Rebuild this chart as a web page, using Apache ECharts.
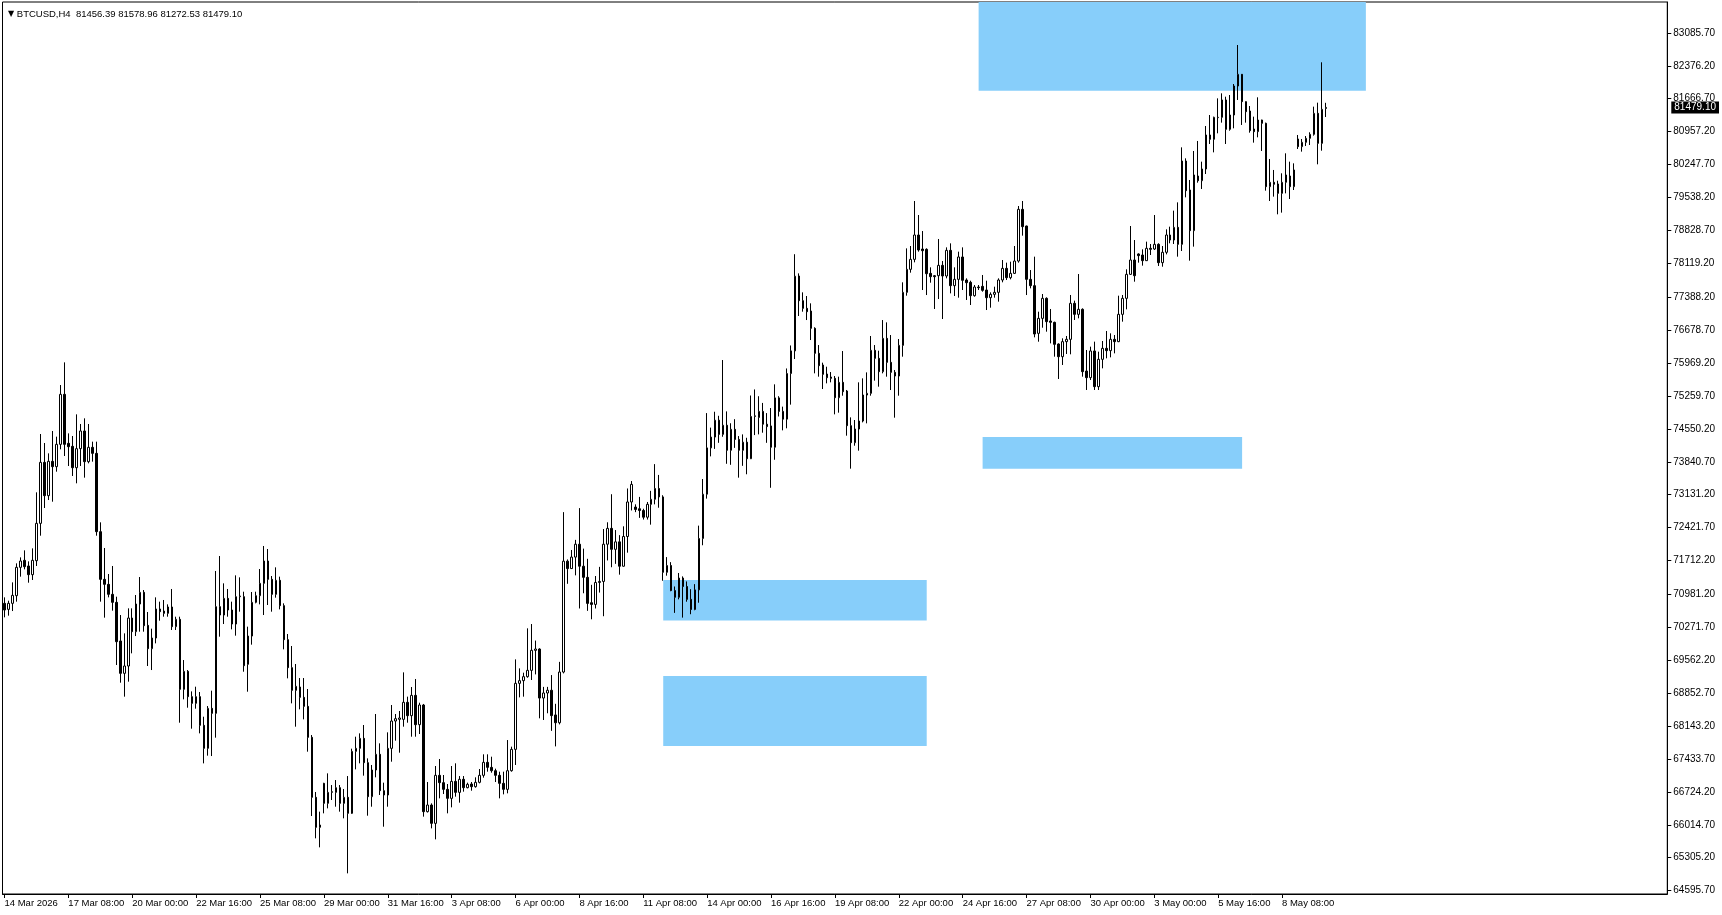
<!DOCTYPE html>
<html><head><meta charset="utf-8">
<script src="https://cdn.jsdelivr.net/npm/echarts@6/dist/echarts.min.js"></script>
<style>html,body{margin:0;padding:0;background:#fff;}#c{width:1722px;height:915px;}</style>
</head><body><div id="c"></div><script>
const symbolName = 'BTCUSD,H4';
const tickLabels = ['14 Mar 2026','17 Mar 08:00','20 Mar 00:00','22 Mar 16:00','25 Mar 08:00','29 Mar 00:00','31 Mar 16:00','3 Apr 08:00','6 Apr 00:00','8 Apr 16:00','11 Apr 08:00','14 Apr 00:00','16 Apr 16:00','19 Apr 08:00','22 Apr 00:00','24 Apr 16:00','27 Apr 08:00','30 Apr 00:00','3 May 00:00','5 May 16:00','8 May 08:00'];
const barsPerLabel = 16;
const futureBars = 85;
const priceTicks = [83085.70,82376.20,81666.70,80957.20,80247.70,79538.20,78828.70,78119.20,77388.20,76678.70,75969.20,75259.70,74550.20,73840.70,73131.20,72421.70,71712.20,70981.20,70271.70,69562.20,68852.70,68143.20,67433.70,66724.20,66014.70,65305.20,64595.70];
const priceMin = 64523;
const priceMax = 83752;

const openP = [70789,70659,70789,70954,71565,71716,71594,71407,71708,72513,73828,73110,73850,73735,74216,75294,74238,74173,73713,74123,74504,73843,74152,74022,72334,71306,71198,70983,70810,69977,69280,69438,70472,70178,70774,71026,70314,69811,70041,70667,70623,70573,70710,70286,70444,68935,69323,68777,68633,68777,68159,67663,68525,68417,70717,70537,70896,70645,70343,70932,70932,69474,70084,70810,70954,71220,71701,71306,70983,71285,70739,70006,69402,68913,68985,68762,68568,67900,66607,65960,66908,66477,66714,66714,66815,66477,66607,66262,67598,67663,67878,67354,66621,67196,67534,66750,66657,67663,68252,68288,68288,68655,68367,68805,68173,68597,66298,66441,66046,67081,66923,66779,66585,66951,66714,66995,66815,66894,66837,66930,67081,67361,67253,67181,67081,66908,66779,67181,67641,69064,69122,69208,69344,69775,69804,68747,68856,68915,68383,68215,69308,71698,71538,71786,72063,71589,71349,70802,70766,71239,71261,72063,72405,71953,72114,71589,72230,72974,72864,72828,72791,72646,72923,73032,73265,73083,71458,71604,71064,70919,71334,71152,70875,70656,71079,72187,73141,74140,74373,74737,74431,74628,74088,74540,74322,74088,74263,73906,74817,74795,74927,74650,74613,74154,75218,74927,74759,75743,76231,77845,77313,77148,77090,76717,76178,75926,75732,75667,75639,75222,75553,75366,74619,74252,74547,74719,75280,75316,76243,76070,75783,76501,75984,75768,75689,76350,77493,77989,78204,78729,78427,78420,77902,77852,77852,78075,77845,78398,77637,77773,78255,77759,77709,77421,77608,77622,77543,77378,77450,77493,77759,78010,77809,77902,78168,79282,78923,77773,77637,76609,76932,77364,76875,76846,76379,76106,76430,76480,77256,77019,77127,75797,75654,76229,75460,76049,76286,76236,76480,76430,77019,77364,77881,78190,78320,78298,78176,78442,78427,78528,78133,78356,78729,78621,78894,78528,80324,79699,78823,80001,79900,80152,80885,80792,81259,81266,81640,81007,81316,81941,82193,81604,81402,81014,80957,81208,81137,79771,79865,79829,79627,79865,80001,79771,80799,80634,80727,80813,80899,81352,80705,81456.39];
const highP = [70918,70846,71241,71651,71780,71931,71694,71974,73182,74439,74245,74022,74504,74382,75495,75984,74453,74396,74863,74655,74777,74655,74274,74274,72535,71982,71421,71594,70932,70537,70142,70681,70681,70968,71356,71076,70602,70243,70918,70825,70861,70767,71098,70501,70501,69567,69351,68891,68992,68877,68345,68575,68906,71486,71809,71220,71098,70825,71392,71349,71040,70286,71033,71040,71529,72025,71960,71378,71565,71364,70789,70128,69869,69481,69179,69179,68942,67950,66722,66298,66920,67124,66872,66980,66872,66786,67066,67656,67914,67986,68166,67447,67304,68403,67771,66923,68008,68597,68403,68468,69301,68777,68985,69158,68647,68620,66937,66477,67282,67433,67088,66894,67282,67340,67066,67066,66923,66937,67038,67217,67534,67534,67483,67225,67160,67160,67842,67699,69581,69387,69294,70250,70343,69986,69820,68988,68988,69243,68623,69527,72755,71735,71939,72157,72842,71968,71749,71188,71378,71575,72391,72536,73141,72369,72259,72449,73265,73425,72923,73083,72828,72974,73214,73790,73557,73119,71786,71677,71152,71443,71370,71261,71094,71203,72464,73469,74890,74577,74919,74832,76034,74927,74671,74759,74395,74431,74358,75269,75400,75254,75109,74890,74999,75510,75254,75029,75852,76348,78315,77902,77493,77414,77256,76740,76357,75977,75890,75775,75689,75675,76228,75388,74798,74741,75553,75639,75768,76552,76357,76235,76896,76846,76573,75819,76487,77709,78441,78492,79462,79160,78815,78442,78032,77866,78643,78168,78463,78549,78032,78370,78463,77795,77744,77651,77651,77867,77744,77493,77615,77795,78190,78133,78154,78492,79354,79462,78930,77974,78262,77076,77457,77385,77134,76861,76393,76502,76552,77436,77314,77888,77148,76250,76322,76430,76214,76444,76660,76609,76573,77421,77436,77989,78923,78621,78334,78420,78586,78535,79160,78550,78492,78851,78909,79254,79433,80619,80382,79915,80540,80756,80310,81079,81316,81280,81675,81783,81711,81747,81984,82825,82200,81610,81510,81280,81697,81215,81151,80368,80131,79900,80059,80490,80310,80274,80885,80799,80863,80943,81496,81582,82452,81578.96];
const lowP = [70487,70523,70623,70825,71364,71522,71234,71292,71594,72247,72844,73016,72980,73627,74109,73965,73749,73534,73376,73749,73498,73807,73843,72247,70825,70480,70918,70631,69459,69078,68777,69100,69711,70084,70178,70178,69438,69351,69926,70415,70501,70501,70214,70214,68216,68719,68539,68087,68518,67986,67339,67505,67497,67893,70070,70343,70501,70228,70092,70609,69315,68884,69898,70789,70767,70537,70753,70609,70911,70659,69797,69172,68633,68130,68504,68288,67591,66204,65723,65529,66262,66369,66549,66405,66298,66154,64968,66250,67210,67340,67074,66211,66405,67038,66657,65974,66405,67375,67828,67569,68130,68216,67914,67914,67972,66190,66280,65938,65701,66585,66678,66262,66391,66621,66492,66729,66801,66750,66815,66908,67031,67160,67138,66937,66585,66671,66693,67160,67304,68762,68777,69186,69136,69257,68310,68274,68419,68040,67705,68179,69279,71210,71530,71392,70678,71006,70627,70445,70678,71021,70511,71713,71567,71640,71407,71580,71881,72791,72755,72631,72595,72595,72485,72923,72850,71276,71385,71050,70583,70875,70481,70824,70554,70640,70802,72041,73046,73957,74118,74249,74380,73797,73775,74140,73498,73753,73571,73899,74416,74431,74467,74249,73280,73884,74817,74518,74562,75072,76056,76983,77076,76896,76465,75747,75675,75409,75531,75553,74863,74899,75265,74403,73692,74187,74080,74690,74669,75265,75589,75459,75747,75675,75387,74791,75265,76106,77421,77917,78140,78370,77543,77435,77701,77134,77349,76918,77795,77471,77414,77378,77543,77328,77220,77400,77543,77507,77112,77162,77378,77292,77709,77759,77773,77888,78133,78715,77435,77579,76523,76429,76731,76645,76393,76106,75625,75927,76164,76157,76897,76933,75675,75388,75603,75388,75388,75855,76070,76092,76178,76420,76861,77127,77870,77723,78133,78068,78170,78298,78406,78061,78046,78312,78550,78535,78262,78384,79541,78176,78478,79857,79721,80044,80691,80511,80921,81151,80691,80978,81029,81640,81101,81151,80935,80720,80835,80540,79685,79462,79556,79175,79211,79627,79505,79699,80583,80526,80648,80669,80871,80253,80547,81272.53];
const closeP = [70645,70789,70961,71565,71701,71579,71407,71716,72513,73828,73110,73850,73735,74216,75294,74216,74166,73713,74123,74504,73843,74152,74022,72334,71306,71198,70983,70810,69962,69280,69438,70472,70178,70774,71026,70307,69811,70041,70667,70609,70573,70710,70286,70444,68935,69323,68777,68633,68777,68159,67663,68525,68417,70717,70537,70896,70645,70343,70932,70947,69445,70084,70810,70954,71220,71701,71306,70983,71285,70739,70006,69402,68913,69000,68762,68568,67900,66607,65960,66010,66477,66714,66729,66815,66477,66607,66262,67598,67663,67878,67354,66621,67196,67534,66750,66657,67663,68252,68302,68317,68655,68367,68805,68173,68597,66298,66441,66046,67081,66923,66779,66585,66951,66714,66995,66815,66887,66837,66930,67081,67361,67253,67181,67081,66908,66779,67181,67641,69064,69122,69208,69344,69776,69804,68747,68856,68915,68368,68215,69308,71698,71538,71786,72063,71589,71349,70788,70766,71239,71261,72063,72405,71953,72114,71589,72230,72974,73353,72813,72791,72646,72923,73032,73265,73083,71458,71604,71064,70919,71334,71152,70875,70656,71079,72187,73141,74140,74373,74737,74431,74628,74088,74540,74322,74088,74263,73906,74817,74832,74927,74650,74599,74154,75218,74927,74759,75743,76231,77841,77313,77148,77076,76717,76178,75912,75725,75653,75639,75222,75553,75352,74619,74252,74547,74719,75280,75316,76243,76070,75783,76501,75984,75768,75689,76350,77493,77989,78204,78729,78406,78391,77895,77831,77831,78075,77845,78398,77637,77773,78255,77752,77701,77421,77608,77594,77536,77378,77450,77493,77759,78010,77809,77902,78168,79282,78909,77773,77637,76595,76932,77364,76861,76846,76372,76106,76430,76480,77256,77019,77127,75783,75654,76229,75460,76049,76286,76236,76480,76430,77019,77364,77881,78190,77852,78284,78176,78442,78420,78528,78133,78356,78729,78621,78894,78528,80324,79685,78823,80023,79900,80152,80885,80792,81266,81266,81640,81007,81316,81941,82193,81604,81388,80978,80957,81208,81137,79771,79865,79822,79627,79865,80023,79771,80131,80634,80727,80813,80899,81352,80705,81438,81479.10];

// rectangle objects: bar index range and price range
const zoneStart = [244, 245, 165, 165];
const zoneEnd   = [341, 310, 231, 231];
const zoneHigh  = [priceMax, 74375, 71292, 69222];
const zoneLow   = [81840, 73689, 70417, 67713];

const zoneColor = '#87CEFA';
const FONT = '"Liberation Sans", Arial, sans-serif';

const totalSlots = openP.length + futureBars;
const categories = Array.from({length: totalSlots}, (_, i) => String(i));
const candleData = openP.map((o, i) => [o, closeP[i], lowP[i], highP[i]]);
const last = openP.length - 1;
const fmt = v => Number(v).toFixed(2);
const titleText = symbolName + '  ' + [openP[last], highP[last], lowP[last], closeP[last]].map(fmt).join(' ');
const isLabelSlot = idx => idx % barsPerLabel === 0 && (idx / barsPerLabel) < tickLabels.length;

const chart = echarts.init(document.getElementById('c'), null, {renderer: 'canvas'});
chart.setOption({
  animation: false,
  backgroundColor: '#fff',
  textStyle: {fontFamily: FONT},
  title: {
    left: 3, top: 4,
    text: '{t|▼} ' + titleText,
    textStyle: {
      fontFamily: FONT, fontSize: 9.5, fontWeight: 'normal', color: '#000',
      rich: {t: {fontSize: 8, color: '#000', fontFamily: 'DejaVu Sans'}}
    }
  },
  grid: {left: 2.5, top: 2, width: 1668, height: 892, show: true, borderColor: '#000', borderWidth: 1, backgroundColor: 'transparent'},
  xAxis: {
    type: 'category', data: categories, boundaryGap: true,
    axisLine: {show: true, lineStyle: {color: '#000', width: 1}},
    axisTick: {show: true, interval: (idx) => isLabelSlot(idx), alignWithLabel: true, length: 4, lineStyle: {color: '#000'}},
    axisLabel: {
      interval: (idx) => isLabelSlot(idx), align: 'left', margin: 4, padding: 0,
      color: '#000', fontSize: 9.5, fontFamily: FONT,
      formatter: (v, idx) => isLabelSlot(idx) ? tickLabels[idx / barsPerLabel] : ''
    },
    splitLine: {show: false}
  },
  yAxis: [
    {
      type: 'value', position: 'right', min: priceMin, max: priceMax,
      axisLine: {show: true, lineStyle: {color: '#000', width: 1}},
      axisTick: {show: true, length: 4, customValues: priceTicks, lineStyle: {color: '#000'}},
      axisLabel: {customValues: priceTicks, formatter: v => fmt(v), color: '#000', fontSize: 10, fontFamily: FONT, margin: 6},
      splitLine: {show: false}
    },
    {
      type: 'value', position: 'right', min: priceMin, max: priceMax, z: 10,
      axisLine: {show: false}, axisTick: {show: false}, splitLine: {show: false},
      axisLabel: {
        customValues: [closeP[last]], formatter: v => fmt(v), color: '#fff', backgroundColor: '#000',
        fontSize: 10, fontFamily: FONT, margin: 4, padding: [1, 3, 1, 3]
      }
    }
  ],
  series: [
    {
      type: 'scatter', data: [], z: 1, silent: true,
      markArea: {
        silent: true,
        itemStyle: {color: zoneColor, opacity: 1},
        data: zoneStart.map((s, k) => [
          {xAxis: s, yAxis: zoneLow[k]},
          {xAxis: zoneEnd[k], yAxis: zoneHigh[k]}
        ])
      }
    },
    {
      type: 'candlestick', z: 3, data: candleData, barWidth: 2,
      itemStyle: {color: '#fff', color0: '#000', borderColor: '#000', borderColor0: '#000', borderColorDoji: '#000', borderWidth: 1}
    }
  ]
});
</script></body></html>
